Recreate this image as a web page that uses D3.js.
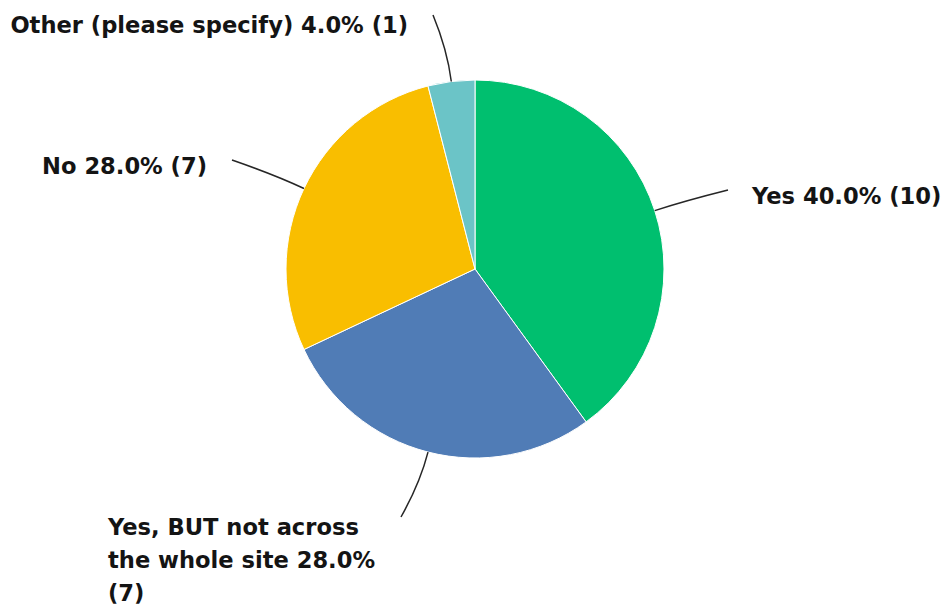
<!DOCTYPE html>
<html>
<head>
<meta charset="utf-8">
<script src="https://cdn.jsdelivr.net/npm/d3@7"></script>
<style>
  html, body { margin: 0; padding: 0; background: #ffffff; }
  svg { display: block; }
  .lbl { font-family: "DejaVu Sans", sans-serif; font-weight: bold; font-size: 22.6px; fill: #141414; }
</style>
</head>
<body>
<svg id="chart" width="946" height="610"></svg>
<script>
// Survey answers
const categories = ["Yes", "Yes, BUT not across the whole site", "No", "Other (please specify)"];
const counts = [10, 7, 7, 1];
const percents = [40.0, 28.0, 28.0, 4.0];
const colors = ["#00bf6f", "#507cb6", "#f9be00", "#6bc4c7"];

// Label placement: anchor where each leader line ends, and how text lines sit
const labelLayout = [
  { end: [728, 190], text: { x: 752, y: 204, anchor: "start" } },
  { end: [401, 517], text: { x: 108, y: 535, anchor: "start", wrap: ["Yes, BUT not across", "the whole site 28.0%", "(7)"] } },
  { end: [232, 160], text: { x: 207, y: 174, anchor: "end" } },
  { end: [433, 15],  text: { x: 408, y: 33,  anchor: "end" } }
];

const width = 946, height = 610;
const cx = 475, cy = 269, radius = 189;

const svg = d3.select("#chart");
const g = svg.append("g").attr("transform", `translate(${cx},${cy})`);

const data = categories.map((c, i) => ({ name: c, count: counts[i], pct: percents[i], color: colors[i], layout: labelLayout[i] }));

const pie = d3.pie().value(d => d.count).sort(null);
const arc = d3.arc().innerRadius(0).outerRadius(radius);
const arcs = pie(data);

g.selectAll("path.slice")
  .data(arcs)
  .join("path")
  .attr("class", "slice")
  .attr("d", arc)
  .attr("fill", d => d.data.color)
  .attr("stroke", "#ffffff")
  .attr("stroke-width", 1);

// Leader lines: leave the rim radially, then bend toward the label
const polar = (a, r) => [Math.sin(a) * r, -Math.cos(a) * r];
svg.append("g").attr("transform", `translate(${cx},${cy})`)
  .selectAll("path.leader")
  .data(arcs)
  .join("path")
  .attr("class", "leader")
  .attr("fill", "none")
  .attr("stroke", "#262626")
  .attr("stroke-width", 1.5)
  .attr("d", d => {
    const mid = (d.startAngle + d.endAngle) / 2;
    const p0 = polar(mid, radius);
    const c1 = polar(mid, radius + 32);
    const e = [d.data.layout.end[0] - cx, d.data.layout.end[1] - cy];
    return `M${p0[0]},${p0[1]} Q${c1[0]},${c1[1]} ${e[0]},${e[1]}`;
  });

// Labels
const fmt = d3.format(".1f");
arcs.forEach(d => {
  const t = d.data.layout.text;
  const text = svg.append("text")
    .attr("class", "lbl")
    .attr("x", t.x)
    .attr("y", t.y)
    .attr("text-anchor", t.anchor);
  const lines = t.wrap || [`${d.data.name} ${fmt(d.data.pct)}% (${d.data.count})`];
  lines.forEach((ln, i) => {
    text.append("tspan").attr("x", t.x).attr("dy", i === 0 ? 0 : 33).text(ln);
  });
});
</script>
</body>
</html>
